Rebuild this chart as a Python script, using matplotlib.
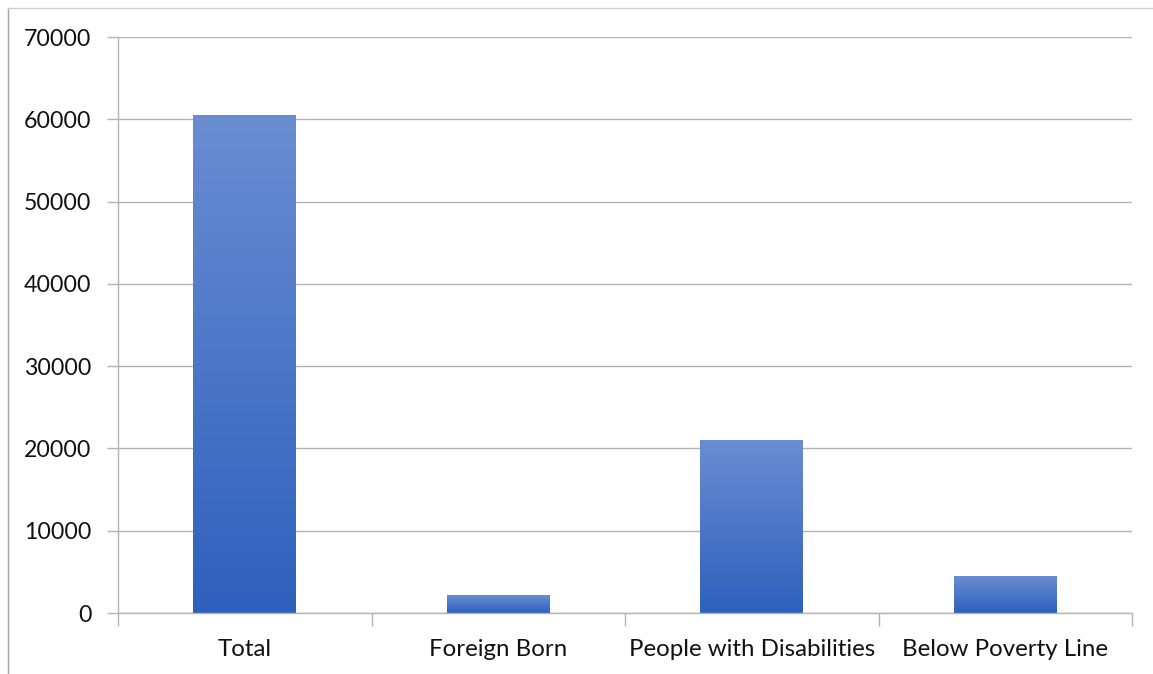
import matplotlib.pyplot as plt
import numpy as np
from matplotlib.lines import Line2D

categories = ['Total', 'Foreign Born', 'People with Disabilities', 'Below Poverty Line']
values = [60500, 2100, 21000, 4400]
yticks = [0, 10000, 20000, 30000, 40000, 50000, 60000, 70000]

plt.rcParams['font.family'] = ['Lato', 'DejaVu Sans']

W, H = 1153, 674
fig = plt.figure(figsize=(W / 100, H / 100), dpi=100)
ax = fig.add_axes([118 / W, 1 - 613 / H, (1132 - 118) / W, (613 - 37) / H])

grid_c = '#b3b3b3'
x = np.arange(len(categories))
bar_w = 0.406

# gradient image: light at top, dark at bottom
top_c = np.array([0x6a, 0x8d, 0xd2]) / 255
bot_c = np.array([0x2e, 0x60, 0xbd]) / 255
t = np.linspace(0, 1, 256)[:, None]
grad = (top_c * (1 - t) + bot_c * t)[:, None, :]

bars = ax.bar(x, values, width=bar_w, color='none', zorder=3)
for b in bars:
    x0, y0 = b.get_x(), b.get_y()
    ax.imshow(grad, extent=[x0, x0 + b.get_width(), y0, y0 + b.get_height()],
              aspect='auto', zorder=3, interpolation='bilinear')

ax.set_xlim(-0.5, len(categories) - 0.5)
ax.set_ylim(0, 70000)
ax.set_yticks(yticks)
ax.set_yticklabels([str(v) for v in yticks])
ax.yaxis.grid(True, color=grid_c, linewidth=1)
ax.set_axisbelow(True)

ax.set_xticks(x)
ax.set_xticklabels(categories)
ax.tick_params(axis='x', length=0, pad=19, labelsize=17.3, colors='#111111')
ax.tick_params(axis='y', length=8, color=grid_c, width=1, pad=11, labelsize=16.7, labelcolor='#111111')

# category boundary ticks
ax.set_xticks(np.arange(-0.5, len(categories)), minor=True)
ax.tick_params(axis='x', which='minor', length=9, color=grid_c, width=1)

for s in ['top', 'right']:
    ax.spines[s].set_visible(False)
for s in ['left', 'bottom']:
    ax.spines[s].set_color(grid_c)
    ax.spines[s].set_linewidth(1)
ax.spines['bottom'].set_zorder(4)

# outer chart border (partially visible)
fig.add_artist(Line2D([8 / W, 8 / W], [0, 1 - 8 / H], transform=fig.transFigure, color='#a6a6a6', lw=1))
fig.add_artist(Line2D([8 / W, 1], [1 - 8 / H, 1 - 8 / H], transform=fig.transFigure, color='#d0d0d0', lw=1))

fig.savefig('out.png', dpi=100)
